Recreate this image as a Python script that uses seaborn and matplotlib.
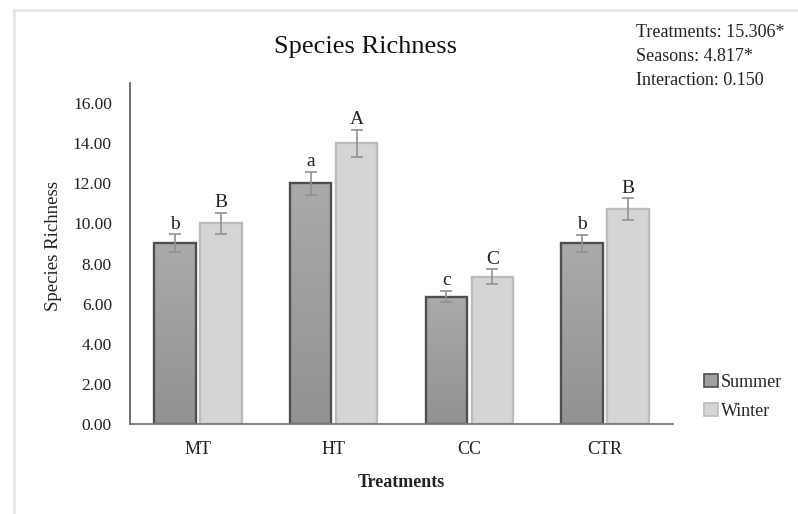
import numpy as np
import pandas as pd
import matplotlib
matplotlib.use("Agg")
import matplotlib.pyplot as plt
import seaborn as sns
from matplotlib.patches import Patch
from matplotlib.lines import Line2D
from matplotlib.colors import LinearSegmentedColormap

treatments = ["MT", "HT", "CC", "CTR"]
seasons = ["Summer", "Winter"]
summer_mean = [9.0, 12.0, 6.35, 9.0]
winter_mean = [10.0, 14.0, 7.35, 10.7]
summer_err = [0.45, 0.57, 0.28, 0.44]
winter_err = [0.52, 0.68, 0.37, 0.55]
summer_letters = ["b", "a", "c", "b"]
winter_letters = ["B", "A", "C", "B"]
stats_lines = ["Treatments: 15.306*", "Seasons: 4.817*", "Interaction: 0.150"]

df = pd.DataFrame({
    "Treatments": treatments * 2,
    "Season": ["Summer"] * 4 + ["Winter"] * 4,
    "Richness": summer_mean + winter_mean,
})

sns.set_theme(style="white")
plt.rcParams["font.family"] = ["Liberation Serif", "DejaVu Serif"]

W, H = 798, 514
fig = plt.figure(figsize=(W / 100, H / 100), dpi=100)
ax = fig.add_axes([130 / W, 1 - 424 / H, 543 / W, 341 / H])

summer_edge, winter_edge = "#4f4f4f", "#bcbcbc"
sns.barplot(data=df, x="Treatments", y="Richness", hue="Season",
            order=treatments, hue_order=seasons,
            palette=["#a2a2a2", "#d5d5d5"], saturation=1,
            width=0.68, gap=0.1, errorbar=None, legend=False, ax=ax)

errs = [summer_err, winter_err]
letters = [summer_letters, winter_letters]
edges = [summer_edge, winter_edge]
cmap = LinearSegmentedColormap.from_list("g", ["#929292", "#aaaaaa"])
grad = np.linspace(0, 1, 100).reshape(-1, 1)

bar_groups = list(ax.containers)
for k, cont in enumerate(bar_groups):
    for bar, e, lab in zip(cont, errs[k], letters[k]):
        bar.set_edgecolor(edges[k])
        bar.set_linewidth(1.7)
        cx = bar.get_x() + bar.get_width() / 2
        h = bar.get_height()
        if k == 0:
            bar.set_facecolor("none")
            im = ax.imshow(grad, extent=[bar.get_x(), bar.get_x() + bar.get_width(), 0, h],
                           origin="lower", cmap=cmap, aspect="auto", zorder=0.5)
            im.set_clip_path(bar)
        ax.errorbar(cx, h, yerr=e, fmt="none", ecolor="#919191",
                    elinewidth=1.2, capsize=4.5, capthick=1.2, zorder=3)
        ax.text(cx, h + e + 0.08, lab, ha="center", va="bottom",
                fontsize=14, color="#222222")

ax.set_xlim(-0.5, 3.5)
ax.set_ylim(0, 17)
ax.set_yticks(np.arange(0, 17, 2))
ax.set_yticklabels([f"{v:.2f}" for v in np.arange(0, 17, 2)])
ax.tick_params(axis="y", direction="in", length=5, width=1.2, color="#666666",
               pad=13, labelsize=12.5, labelcolor="#222222")
ax.tick_params(axis="x", length=0, pad=12, labelsize=13, labelcolor="#222222")
for s in ["top", "right"]:
    ax.spines[s].set_visible(False)
ax.spines["left"].set_color("#666666")
ax.spines["left"].set_linewidth(1.3)
ax.spines["bottom"].set_color("#777777")
ax.spines["bottom"].set_linewidth(1.3)

ax.set_xlabel("Treatments", fontsize=13, fontweight="bold", color="#222222", labelpad=12)
ax.set_ylabel("")
fig.text(54 / W, 1 - 246 / H, "Species Richness", rotation=90, ha="center",
         va="center", fontsize=13.5, color="#222222")
fig.text(365 / W, 1 - 47 / H, "Species Richness", ha="center", va="center",
         fontsize=19, color="#111111")
fig.text(636 / W, 1 - 24 / H, "\n".join(stats_lines), ha="left", va="top",
         fontsize=13, color="#222222", linespacing=1.52)

handles = [Patch(facecolor="#a0a0a0", edgecolor=summer_edge, linewidth=1.2),
           Patch(facecolor="#d5d5d5", edgecolor=winter_edge, linewidth=1.2)]
fig.legend(handles, seasons, loc="center left", bbox_to_anchor=(704 / W, 1 - 397 / H),
           frameon=False, fontsize=13, handlelength=0.75, handleheight=0.75,
           handletextpad=0.2, labelspacing=0.65, borderpad=0, borderaxespad=0)

# light frame
fig.add_artist(Line2D([14 / W, 14 / W], [0, 1 - 10 / H], transform=fig.transFigure,
                      color="#e6e6e6", lw=2))
fig.add_artist(Line2D([14 / W, 1], [1 - 10 / H, 1 - 10 / H], transform=fig.transFigure,
                      color="#e6e6e6", lw=2))

fig.savefig("out.png", dpi=100, facecolor="white")
